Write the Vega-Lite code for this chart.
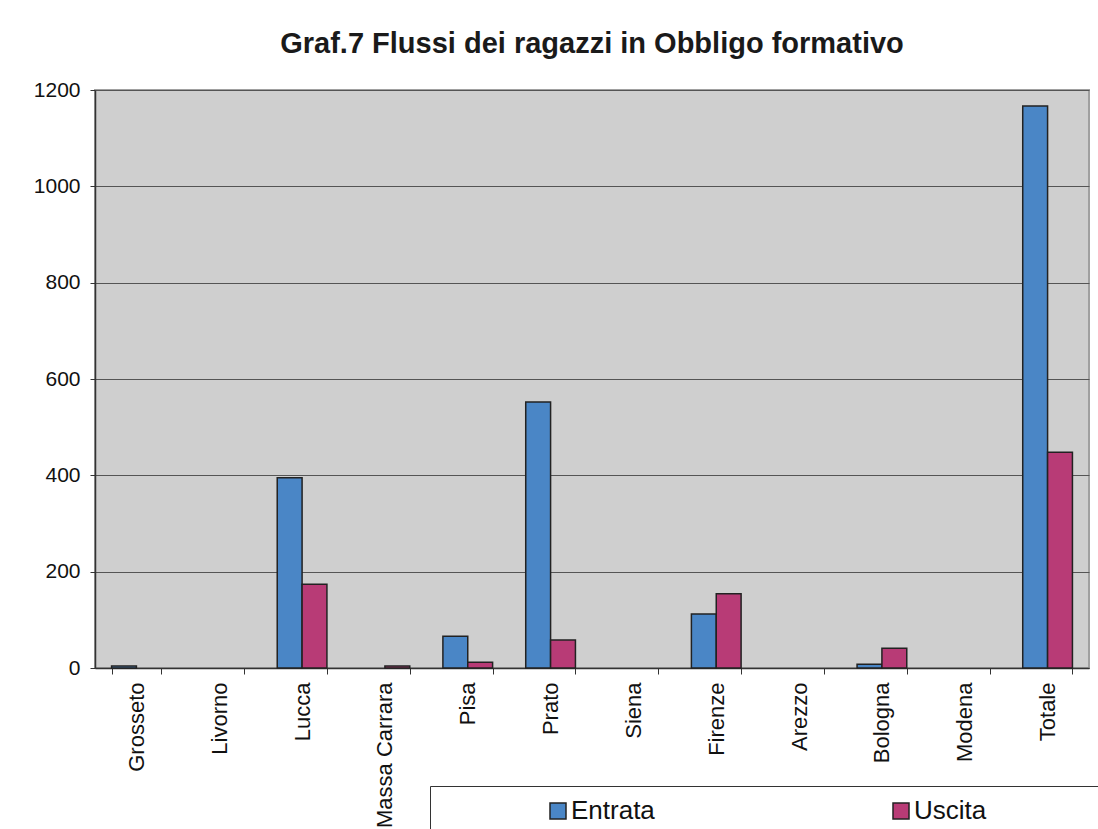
{
  "$schema": "https://vega.github.io/schema/vega-lite/v6.json",
  "width": 994,
  "height": 578,
  "autosize": {"type": "none"},
  "padding": {"left": 95, "top": 90, "right": 9, "bottom": 161},
  "background": "white",
  "title": {
    "text": "Graf.7 Flussi dei ragazzi in Obbligo formativo",
    "font": "Liberation Sans",
    "fontSize": 29,
    "fontWeight": "bold",
    "color": "#1a1a1a",
    "anchor": "middle",
    "offset": 20
  },
  "data": {
    "values": [
      {"provincia": "Grosseto", "serie": "Entrata", "valore": 4},
      {"provincia": "Lucca", "serie": "Entrata", "valore": 395},
      {"provincia": "Lucca", "serie": "Uscita", "valore": 174},
      {"provincia": "Massa Carrara", "serie": "Uscita", "valore": 4},
      {"provincia": "Pisa", "serie": "Entrata", "valore": 66},
      {"provincia": "Pisa", "serie": "Uscita", "valore": 12},
      {"provincia": "Prato", "serie": "Entrata", "valore": 552},
      {"provincia": "Prato", "serie": "Uscita", "valore": 58},
      {"provincia": "Firenze", "serie": "Entrata", "valore": 112},
      {"provincia": "Firenze", "serie": "Uscita", "valore": 154},
      {"provincia": "Bologna", "serie": "Entrata", "valore": 8},
      {"provincia": "Bologna", "serie": "Uscita", "valore": 41},
      {"provincia": "Totale", "serie": "Entrata", "valore": 1167},
      {"provincia": "Totale", "serie": "Uscita", "valore": 448}
    ]
  },
  "mark": {"type": "bar", "stroke": "#222222", "strokeWidth": 1.5},
  "encoding": {
    "x": {
      "field": "provincia",
      "type": "nominal",
      "sort": null,
      "scale": {
        "domain": ["Grosseto", "Livorno", "Lucca", "Massa Carrara", "Pisa", "Prato", "Siena", "Firenze", "Arezzo", "Bologna", "Modena", "Totale"],
        "paddingInner": 0.4,
        "paddingOuter": 0.2
      },
      "axis": {
        "title": null,
        "grid": false,
        "tickBand": "extent",
        "tickSize": 6,
        "tickColor": "#333333",
        "domainColor": "#333333",
        "domainWidth": 1.5,
        "labelAngle": 270,
        "labelAlign": "right",
        "labelBaseline": "middle",
        "labelFont": "Liberation Sans",
        "labelFontSize": 22,
        "labelColor": "#111111",
        "labelPadding": 8,
        "labelLimit": 300
      }
    },
    "xOffset": {
      "field": "serie",
      "type": "nominal",
      "scale": {"domain": ["Entrata", "Uscita"], "paddingInner": 0, "paddingOuter": 0}
    },
    "y": {
      "field": "valore",
      "type": "quantitative",
      "scale": {"domain": [0, 1200], "nice": false},
      "axis": {
        "title": null,
        "values": [0, 200, 400, 600, 800, 1000, 1200],
        "format": "d",
        "grid": true,
        "gridColor": "#555555",
        "gridWidth": 1,
        "tickSize": 5,
        "tickColor": "#333333",
        "domainColor": "#333333",
        "domainWidth": 1.5,
        "labelFont": "Liberation Sans",
        "labelFontSize": 21,
        "labelColor": "#111111",
        "labelPadding": 10
      }
    },
    "color": {
      "field": "serie",
      "type": "nominal",
      "scale": {"domain": ["Entrata", "Uscita"], "range": ["#4a86c6", "#b83b76"]},
      "legend": {
        "orient": "none",
        "legendX": 335,
        "legendY": 696,
        "direction": "horizontal",
        "title": " ",
        "titleOrient": "right",
        "titlePadding": 130,
        "titleFontSize": 24,
        "padding": 12,
        "strokeColor": "#333333",
        "fillColor": "white",
        "symbolType": "square",
        "symbolSize": 256,
        "symbolStrokeColor": "#222222",
        "symbolStrokeWidth": 1.5,
        "symbolOffset": 103,
        "labelOffset": 0,
        "columnPadding": 130,
        "labelFont": "Liberation Sans",
        "labelFontSize": 26,
        "labelColor": "#111111"
      }
    }
  },
  "config": {
    "view": {"fill": "#cfcfcf", "stroke": "#a0a0a0", "strokeWidth": 2}
  }
}
